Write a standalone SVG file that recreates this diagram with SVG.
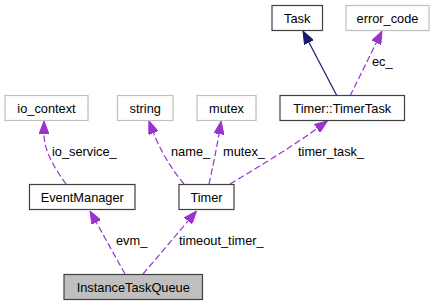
<svg xmlns="http://www.w3.org/2000/svg" width="435" height="305" viewBox="0 0 435 305">
  <style>
    .node rect { stroke-width: 1.2; }
    .solid rect { fill: #ffffff; stroke: #404040; }
    .ext rect { fill: #ffffff; stroke: #bfbfbf; }
    .focus rect { fill: #bfbfbf; stroke: #404040; }
    text { font-family: "Liberation Sans", Arial, Helvetica, sans-serif; font-size: 12.8px; fill: #000000; }
    .node text { text-anchor: middle; }
    .use { fill: none; stroke: #9a32cd; stroke-width: 1.2; stroke-dasharray: 6.5,3; }
    .inherit { fill: none; stroke: #191970; stroke-width: 1.2; }
  </style>
  <defs>
    <marker id="arrow-use" viewBox="0 0 13 10" refX="0" refY="5" markerWidth="13" markerHeight="10" markerUnits="userSpaceOnUse" orient="auto">
      <path d="M0,0 L13,5 L0,10 Z" fill="#9a32cd" stroke="#9a32cd" stroke-width="1"/>
    </marker>
    <marker id="arrow-inherit" viewBox="0 0 13 10" refX="0" refY="5" markerWidth="13" markerHeight="10" markerUnits="userSpaceOnUse" orient="auto">
      <path d="M0,0 L13,5 L0,10 Z" fill="#191970" stroke="#191970" stroke-width="1"/>
    </marker>
  </defs>

  <g id="connectors">
    <!-- inheritance: Timer::TimerTask -> Task -->
    <path class="inherit" d="M337,96 L309,42.5" marker-end="url(#arrow-inherit)"/>
    <!-- usage relations -->
    <path class="use" d="M350,96 L376.3,42.7" marker-end="url(#arrow-use)"/>
    <path class="use" d="M66,184 C56,170 44,152 44,134" marker-end="url(#arrow-use)"/>
    <path class="use" d="M184,184 C172,170 160,150 153.5,133" marker-end="url(#arrow-use)"/>
    <path class="use" d="M209,184 C212,170 216,152 219,134" marker-end="url(#arrow-use)"/>
    <path class="use" d="M230,184 C260,166 290,148 317,128.5" marker-end="url(#arrow-use)"/>
    <path class="use" d="M125,274 L96.3,222.4" marker-end="url(#arrow-use)"/>
    <path class="use" d="M143,274 L188.1,220.9" marker-end="url(#arrow-use)"/>

    <text x="372" y="66">ec_</text>
    <text x="52" y="156">io_service_</text>
    <text x="171" y="156">name_</text>
    <text x="223" y="156">mutex_</text>
    <text x="298" y="156">timer_task_</text>
    <text x="116" y="245">evm_</text>
    <text x="179" y="245">timeout_timer_</text>
  </g>

  <g id="node-task" class="node solid">
    <rect x="272" y="5.5" width="50.5" height="25"/>
    <text x="297.25" y="22.5">Task</text>
  </g>
  <g id="node-error-code" class="node ext">
    <rect x="346" y="5.5" width="83" height="25"/>
    <text x="387.5" y="22.5">error_code</text>
  </g>
  <g id="node-timertask" class="node solid">
    <rect x="280" y="95.5" width="124.5" height="25"/>
    <text x="342.25" y="112.5">Timer::TimerTask</text>
  </g>
  <g id="node-io-context" class="node ext">
    <rect x="5" y="95.5" width="83" height="25"/>
    <text x="46.5" y="112.5">io_context</text>
  </g>
  <g id="node-string" class="node ext">
    <rect x="117.5" y="95.5" width="55.5" height="25"/>
    <text x="145.25" y="112.5">string</text>
  </g>
  <g id="node-mutex" class="node ext">
    <rect x="197" y="95.5" width="59" height="25"/>
    <text x="226.5" y="112.5">mutex</text>
  </g>
  <g id="node-eventmanager" class="node solid">
    <rect x="29.5" y="184.5" width="105.5" height="25"/>
    <text x="82.25" y="201.5">EventManager</text>
  </g>
  <g id="node-timer" class="node solid">
    <rect x="179" y="184.5" width="55" height="25"/>
    <text x="206.5" y="201.5">Timer</text>
  </g>
  <g id="node-instancetaskqueue" class="node focus">
    <rect x="64" y="274.5" width="138.5" height="25"/>
    <text x="133.25" y="291.5">InstanceTaskQueue</text>
  </g>
</svg>
